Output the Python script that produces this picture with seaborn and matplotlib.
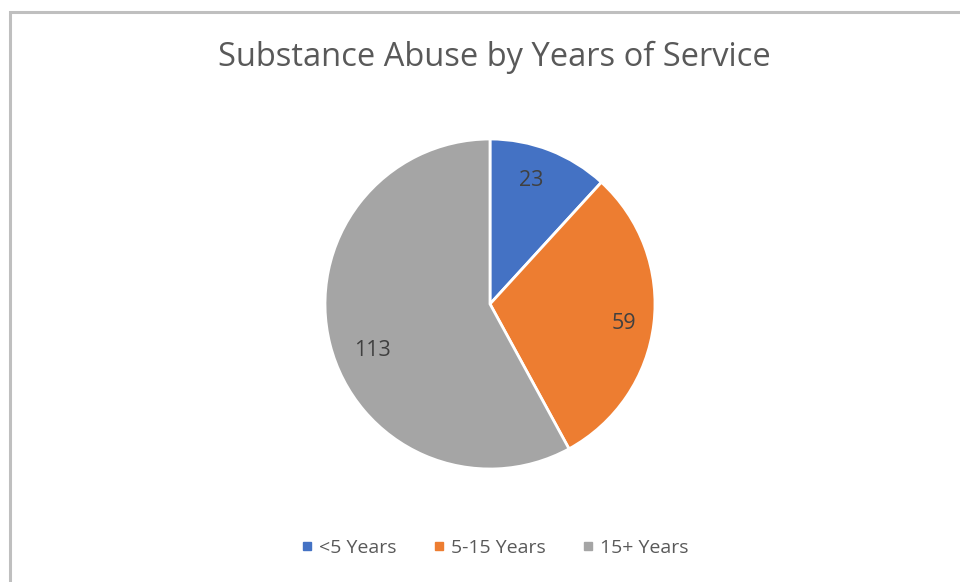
import matplotlib.pyplot as plt
import seaborn as sns
from matplotlib.patches import Rectangle
from matplotlib.lines import Line2D

categories = ['<5 Years', '5-15 Years', '15+ Years']
counts = [23, 59, 113]
colors = ['#4472C4', '#ED7D31', '#A5A5A5']
title = 'Substance Abuse by Years of Service'
# small nudges for the value labels (axes data units), like Excel's placement
label_nudge = [(-0.03, 0.02), (0.035, -0.025), (0.045, -0.09)]

sns.set_theme(style='white')
plt.rcParams['font.family'] = ['Open Sans', 'DejaVu Sans']
text_color = '#595959'

fig = plt.figure(figsize=(9.6, 5.82), dpi=100)
fig.patch.set_facecolor('white')

# chart border (runs off the right and bottom edges like the screenshot)
fig.add_artist(Rectangle((9.5 / 960, -0.1), 1.2, 1.1 - 11.5 / 582,
                         transform=fig.transFigure, fill=False,
                         edgecolor='#BFBFBF', linewidth=2.2))

ax = fig.add_axes([(490 - 165) / 960, (582 - 469) / 582, 330 / 960, 330 / 582])
wedges, texts, autotexts = ax.pie(
    counts,
    colors=colors,
    startangle=90,
    counterclock=False,
    radius=1,
    autopct=lambda p: f'{round(p * sum(counts) / 100):d}',
    pctdistance=0.78,
    wedgeprops={'edgecolor': 'white', 'linewidth': 2},
    textprops={'fontsize': 15.5, 'color': '#404040'},
)
for t, (dx, dy) in zip(autotexts, label_nudge):
    x, y = t.get_position()
    t.set_position((x + dx, y + dy))
ax.set_xlim(-1.0, 1.0)
ax.set_ylim(-1.0, 1.0)
ax.set_aspect('equal')
ax.axis('off')

fig.text(494 / 960, 1 - 66 / 582, title, ha='center', va='baseline',
         fontsize=23.5, color=text_color)

handles = [Line2D([0], [0], marker='s', linestyle='none', markersize=6.2,
                  markerfacecolor=c, markeredgecolor=c) for c in colors]
fig.legend(handles, categories, loc='center', bbox_to_anchor=(494 / 960, 1 - 548 / 582),
           ncol=3, frameon=False, fontsize=14, labelcolor=text_color,
           handletextpad=0.2, columnspacing=1.8, handlelength=0.8)

fig.savefig('out.png', dpi=100)
